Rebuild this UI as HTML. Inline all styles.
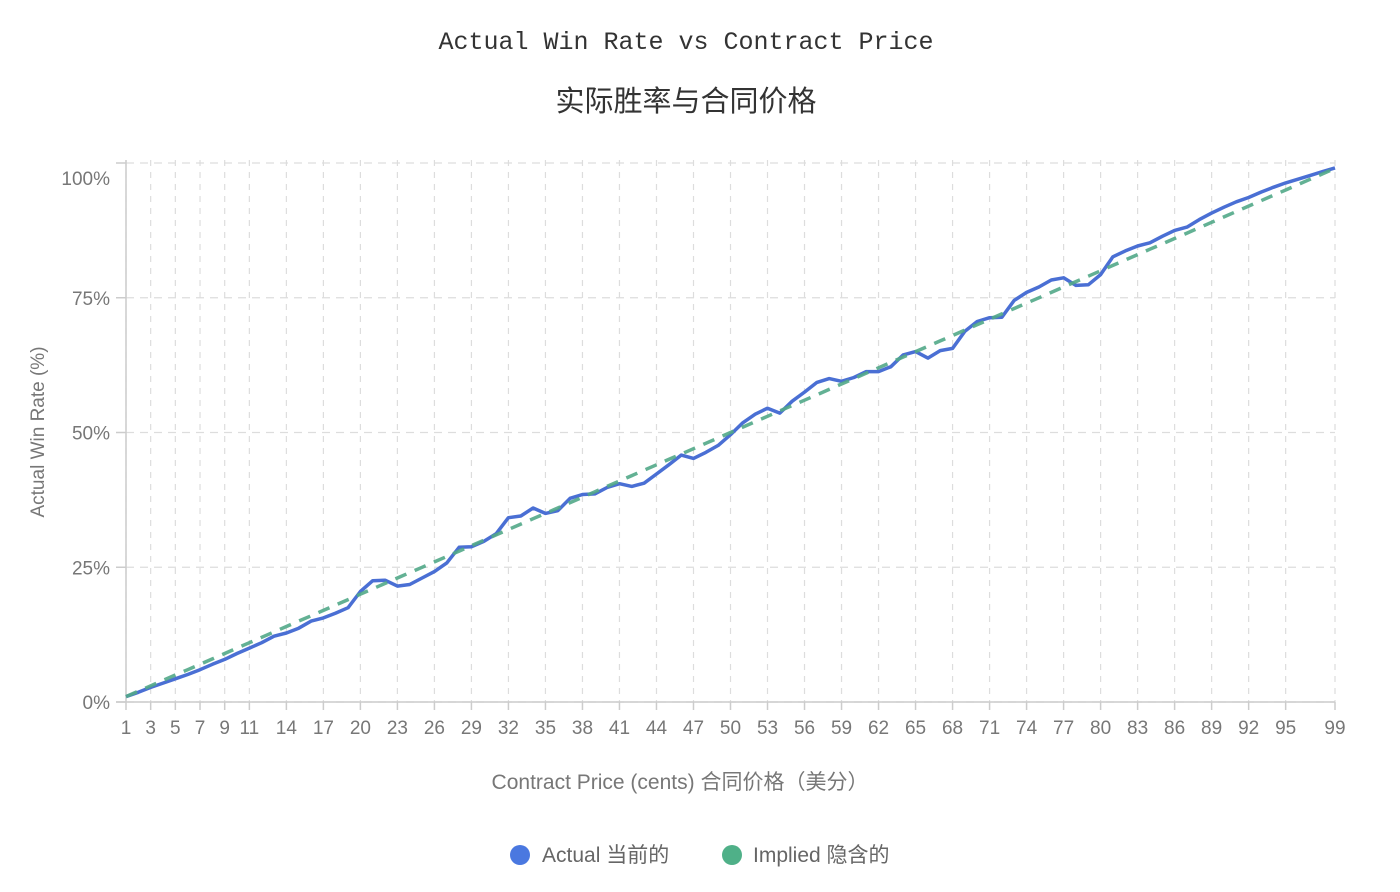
<!DOCTYPE html>
<html><head><meta charset="utf-8">
<style>
html,body{margin:0;padding:0;background:#fff;}
body{width:1400px;height:892px;overflow:hidden;position:relative;font-family:"Liberation Sans","Noto Sans CJK SC",sans-serif;}
svg{position:absolute;left:0;top:0;}
</style></head>
<body>
<svg id="chart" width="1400" height="892">
  <text x="686" y="49" text-anchor="middle" font-family="'Liberation Mono','Noto Sans CJK SC',monospace" font-size="25" fill="#333">Actual Win Rate vs Contract Price</text>
  <text x="686" y="111" text-anchor="middle" font-family="'Liberation Sans','Noto Sans CJK SC',sans-serif" font-size="29" fill="#333">实际胜率与合同价格</text>
  <g id="grid"></g>
  <g id="axes"></g>
  <g id="series"></g>
  <text x="44" y="432" transform="rotate(-90 44 432)" text-anchor="middle" font-size="19" fill="#777">Actual Win Rate (%)</text>
  <text x="680" y="789" text-anchor="middle" font-size="21" fill="#777">Contract Price (cents) 合同价格（美分）</text>
  <g>
    <g>
      <circle cx="520" cy="855" r="10" fill="#4a78e0"/>
      <text x="542" y="862" font-size="21" fill="#666">Actual  当前的</text>
    </g>
    <g>
      <circle cx="732" cy="855" r="10" fill="#4fb088"/>
      <text x="753" y="862" font-size="21" fill="#666">Implied  隐含的</text>
    </g>
  </g>
</svg>
<script>
const cents = Array.from({length:99},(_, i)=>i+1);
const actual = [1,1.8,2.7,3.5,4.3,5.1,6.0,7.0,7.9,9.0,10.0,11.0,12.2,12.8,13.7,15.0,15.6,16.5,17.5,20.5,22.5,22.6,21.5,21.8,23.0,24.2,25.8,28.7,28.8,29.8,31.2,34.2,34.5,36.0,35.0,35.5,37.8,38.5,38.6,39.8,40.5,40.0,40.6,42.3,44.0,45.8,45.2,46.3,47.6,49.6,51.8,53.4,54.5,53.6,55.8,57.5,59.3,60.0,59.5,60.2,61.3,61.3,62.2,64.4,65.0,63.8,65.2,65.6,68.8,70.6,71.3,71.4,74.5,76.0,77.0,78.3,78.7,77.3,77.4,79.3,82.6,83.7,84.6,85.2,86.4,87.5,88.1,89.5,90.7,91.8,92.8,93.6,94.6,95.5,96.3,97.0,97.7,98.4,99.1];
const implied = cents.slice();
const xTicks = [1,3,5,7,9,11,14,17,20,23,26,29,32,35,38,41,44,47,50,53,56,59,62,65,68,71,74,77,80,83,86,89,92,95,99];
const yTicks = [0,25,50,75,100];
const yTickLabels = ["0%","25%","50%","75%","100%"];

const L=126,R=1335,T=163,B=702;
const xs = c => L + (c-1)/98*(R-L);
const ys = v => B - v/100*(B-T);
const NS="http://www.w3.org/2000/svg";
function mk(tag, attrs, parent){const e=document.createElementNS(NS,tag);for(const k in attrs)e.setAttribute(k,attrs[k]);parent.appendChild(e);return e;}
const grid=document.getElementById('grid'), axes=document.getElementById('axes'), series=document.getElementById('series');

xTicks.forEach(c=>{
  const x=xs(c);
  const g=mk('line',{x1:x,x2:x,y1:160,y2:B,stroke:'#ddd','stroke-width':1.2,'stroke-dasharray':'6 6'},grid);
  
  
  const t=mk('line',{x1:x,x2:x,y1:B,y2:B+8,stroke:'#ccc','stroke-width':1.5},axes);
  
  
  const lb=mk('text',{x:x,y:B+32,'text-anchor':'middle','font-size':19,fill:'#777'},axes);
  lb.textContent=c;
  
  
});
yTicks.forEach((v,i)=>{
  const y=ys(v);
  const g=mk('line',{x1:L,x2:R,y1:y,y2:y,stroke:'#ddd','stroke-width':1.2,'stroke-dasharray':'8 6'},grid);
  
  
  const t=mk('line',{x1:L-10,x2:L,y1:y,y2:y,stroke:'#ccc','stroke-width':1.5},axes);
  
  
  const ly = v===100 ? y+22 : y+7;
  const lb=mk('text',{x:110,y:ly,'text-anchor':'end','font-size':19,fill:'#777'},axes);
  lb.textContent=yTickLabels[i];
  
  
});
const ya=mk('line',{x1:L,x2:L,y1:160,y2:B,stroke:'#ccc','stroke-width':1.5},axes);


const xa=mk('line',{x1:L-10,x2:R,y1:B,y2:B,stroke:'#ccc','stroke-width':1.5},axes);



const pts = arr => arr.map((v,i)=>xs(cents[i]).toFixed(1)+','+ys(v).toFixed(1)).join(' ');
const la=mk('polyline',{points:pts(actual),fill:'none',stroke:'#4a6fd4','stroke-width':3.5,'stroke-linejoin':'round'},series);


const li=mk('polyline',{points:pts(implied),fill:'none',stroke:'#52a888','stroke-width':3.5,'stroke-dasharray':'12 9',opacity:0.9},series);


</script>
</body></html>
